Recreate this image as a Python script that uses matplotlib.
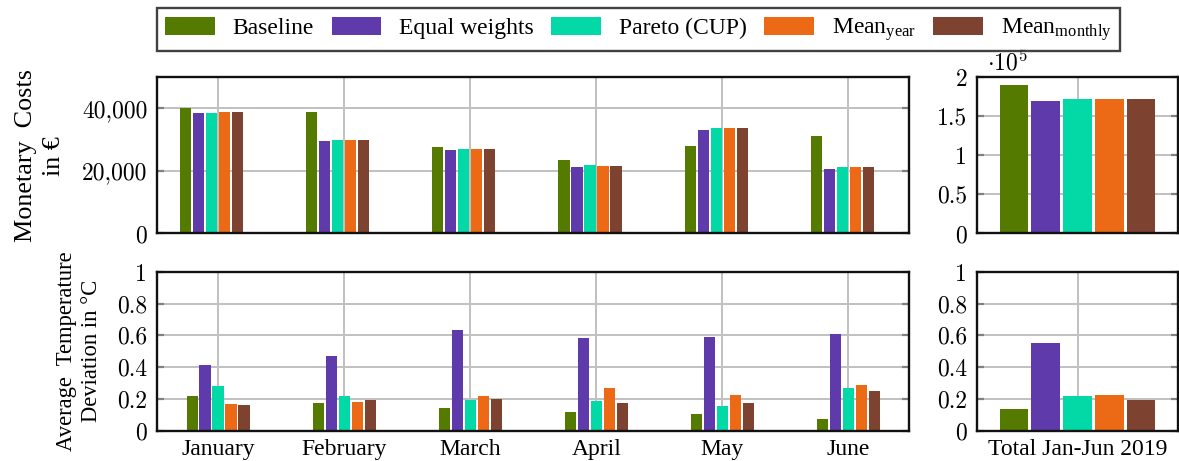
import numpy as np
import matplotlib
matplotlib.use("Agg")
import matplotlib.pyplot as plt
from matplotlib.patches import Patch
from matplotlib.ticker import FuncFormatter

plt.rcParams["font.family"] = ["Liberation Serif", "DejaVu Serif"]
plt.rcParams["mathtext.fontset"] = "custom"
plt.rcParams["mathtext.rm"] = "Liberation Serif"
plt.rcParams["mathtext.it"] = "Liberation Serif:italic"
plt.rcParams["axes.unicode_minus"] = False

# ---- data ----
months = ["January", "February", "March", "April", "May", "June"]
series = ["Baseline", "Equal weights", "Pareto (CUP)", "Mean$_{\\mathrm{year}}$", "Mean$_{\\mathrm{monthly}}$"]
colors = ["#557a00", "#5e3aaa", "#03d8a7", "#ec6a15", "#7e4230"]

# monthly monetary costs in EUR, one list per strategy
cost_baseline = [40200, 38700, 27700, 23600, 28000, 31200]
cost_equal = [38400, 29700, 26700, 21100, 33200, 20700]
cost_pareto = [38600, 30000, 27100, 21800, 33700, 21200]
cost_mean_year = [38700, 30000, 27100, 21500, 33600, 21100]
cost_mean_month = [38700, 30000, 27100, 21700, 33600, 21100]

# monthly average temperature deviation in degC
dev_baseline = [0.217, 0.171, 0.140, 0.117, 0.104, 0.071]
dev_equal = [0.411, 0.470, 0.633, 0.581, 0.591, 0.608]
dev_pareto = [0.282, 0.217, 0.194, 0.188, 0.154, 0.265]
dev_mean_year = [0.165, 0.177, 0.219, 0.265, 0.221, 0.284]
dev_mean_month = [0.160, 0.190, 0.198, 0.175, 0.175, 0.248]

# totals for Jan-Jun 2019
total_label = "Total Jan-Jun 2019"
total_cost = [189700, 169800, 172300, 171500, 172000]
total_dev = [0.138, 0.550, 0.219, 0.221, 0.190]

costs = [cost_baseline, cost_equal, cost_pareto, cost_mean_year, cost_mean_month]
devs = [dev_baseline, dev_equal, dev_pareto, dev_mean_year, dev_mean_month]

# ---- figure ----
W, H = 1179, 461
fig = plt.figure(figsize=(W / 100, H / 100), dpi=100)

def frac(l, r, t, b):
    return [l / W, 1 - b / H, (r - l) / W, (b - t) / H]

ax_c = fig.add_axes(frac(157, 909, 77, 233.5))
ax_d = fig.add_axes(frac(157, 909, 272, 430.5))
ax_ct = fig.add_axes(frac(977, 1178, 77, 233.5))
ax_dt = fig.add_axes(frac(977, 1178, 272, 430.5))

FS = 17
GRID = "#c0c0c0"
TICKC = "#808080"

def style(ax):
    for s in ax.spines.values():
        s.set_linewidth(1.7)
        s.set_color("#111111")
        s.set_zorder(5)
    ax.set_axisbelow(True)
    ax.grid(True, color=GRID, linewidth=1.4)
    ax.tick_params(axis="y", direction="in", length=5, width=1.6, color=TICKC,
                   left=True, right=True, labelsize=FS, pad=7)
    ax.tick_params(axis="x", length=0, labelsize=FS, pad=6)
    for lab in ax.get_yticklabels():
        lab.set_fontfamily("cmr10")

x = np.arange(len(months))
pitch, width = 0.103, 0.088
for i in range(5):
    off = (i - 2) * pitch
    ax_c.bar(x + off - 0.05, costs[i], width, color=colors[i], zorder=3)
    ax_d.bar(x + off, devs[i], width, color=colors[i], zorder=3)

tp, tw = 0.158, 0.144
for i in range(5):
    off = (i - 2) * tp
    ax_ct.bar([off], [total_cost[i]], tw, color=colors[i], zorder=3)
    ax_dt.bar([off], [total_dev[i]], tw, color=colors[i], zorder=3)

for ax in (ax_c, ax_d):
    ax.set_xlim(-0.484, 5.48)
    ax.set_xticks(x)
ax_c.set_xticklabels([])
ax_d.set_xticklabels(months)

ax_c.set_ylim(0, 50000)
ax_c.set_yticks([0, 20000, 40000])
ax_c.yaxis.set_major_formatter(FuncFormatter(lambda v, p: f"{int(v):,}"))

for ax in (ax_d, ax_dt):
    ax.set_ylim(0, 1)
    ax.set_yticks([0, 0.2, 0.4, 0.6, 0.8, 1.0])
    ax.yaxis.set_major_formatter(FuncFormatter(lambda v, p: "0" if v == 0 else ("1" if v == 1 else f"{v:.1f}")))

for ax in (ax_ct, ax_dt):
    ax.set_xlim(-0.5, 0.5)
    ax.set_xticks([0])
ax_ct.set_xticklabels([])
ax_dt.set_xticklabels([total_label])

ax_ct.set_ylim(0, 2e5)
ax_ct.set_yticks([0, 0.5e5, 1e5, 1.5e5, 2e5])
ax_ct.yaxis.set_major_formatter(FuncFormatter(lambda v, p: f"{v / 1e5:g}"))

for ax in (ax_c, ax_d, ax_ct, ax_dt):
    style(ax)

ax_ct.text(0.05, 1.01, r"$\cdot 10^5$", transform=ax_ct.transAxes, fontsize=FS,
           math_fontfamily="cm", ha="left", va="bottom")

# y-axis titles
fig.text(40 / W, 1 - 156 / H, "Monetary  Costs\nin €", rotation=90, ha="center",
         va="center", fontsize=18.8, multialignment="center", linespacing=1.3)
fig.text(79 / W, 1 - 351 / H, "Average  Temperature\nDeviation in °C", rotation=90,
         ha="center", va="center", fontsize=16.3, multialignment="center", linespacing=1.3)

# legend
handles = [Patch(facecolor=c, edgecolor="none") for c in colors]
leg = fig.legend(handles, series, loc="upper left", bbox_to_anchor=(157 / W, 1 - 8 / H),
                 ncol=5, fontsize=FS, frameon=True, fancybox=False, borderaxespad=0,
                 handlelength=2.1, handleheight=0.8, handletextpad=0.75,
                 columnspacing=0.75, borderpad=0.35)
leg.get_frame().set_edgecolor("#111111")
leg.get_frame().set_linewidth(1.7)

fig.savefig("out.png", dpi=100)
